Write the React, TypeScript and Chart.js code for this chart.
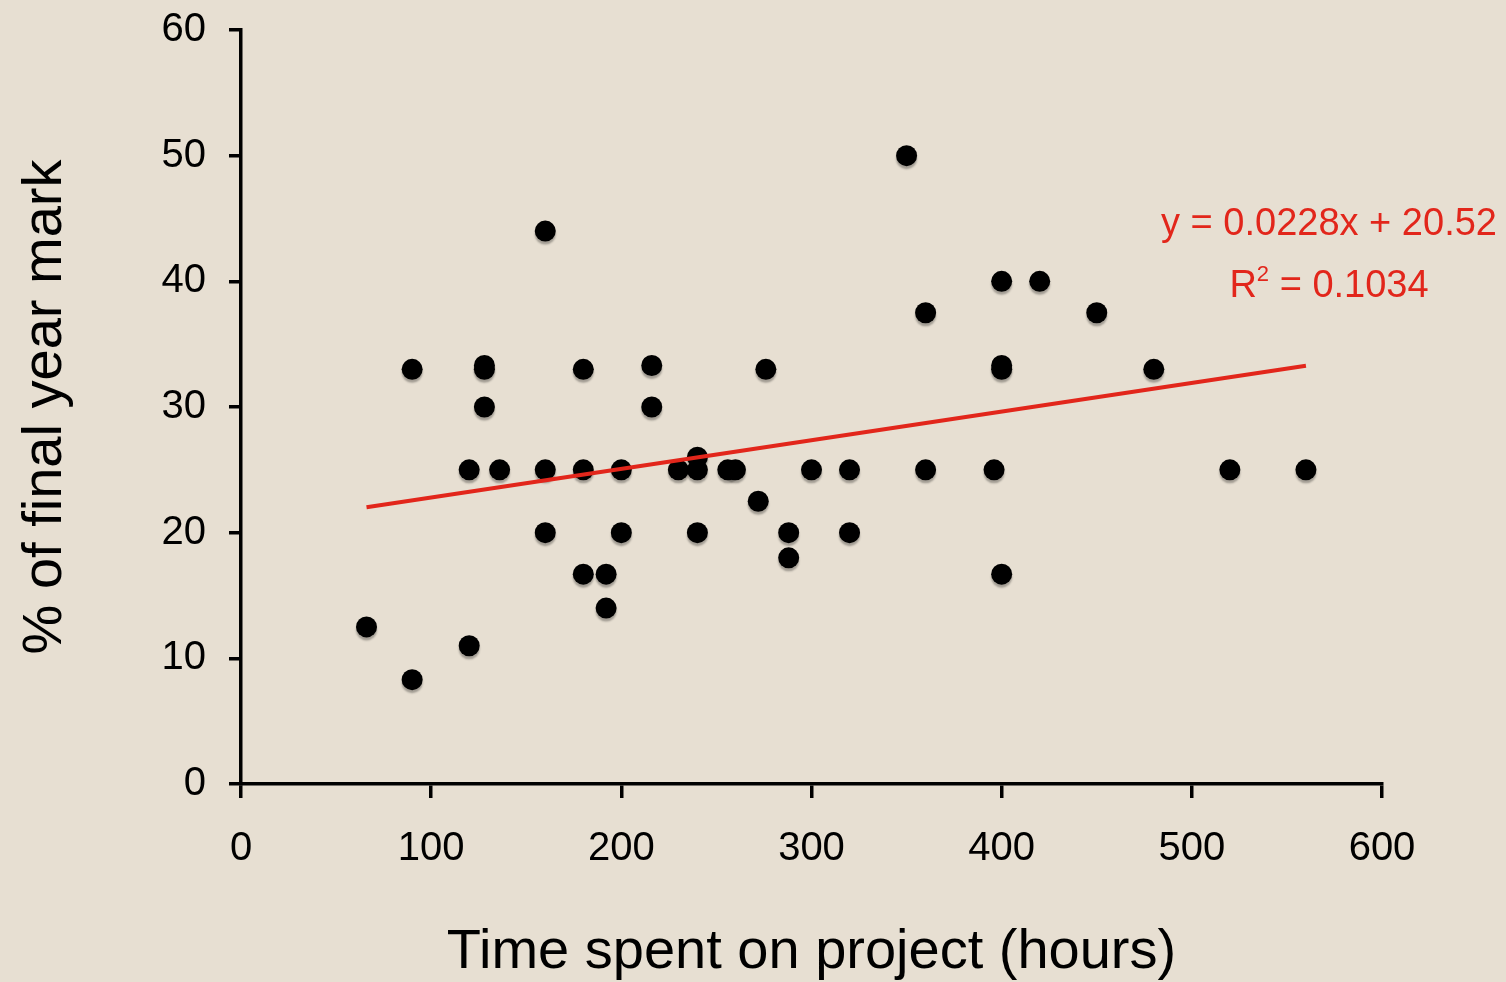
import React, { useEffect, useRef } from "react";
import { Chart, registerables } from "chart.js";

Chart.register(...registerables);

const hours: number[] = [66, 90, 90, 120, 120, 128, 128, 128, 136, 160, 160, 160, 180, 180, 180, 192, 192, 200, 200, 216, 216, 230, 240, 240, 240, 256, 260, 272, 276, 288, 288, 300, 320, 320, 350, 360, 360, 396, 400, 400, 400, 400, 420, 450, 480, 520, 560];
const marks: number[] = [12.5, 8.3, 33, 11, 25, 33.3, 33, 30, 25, 44, 25, 20, 33, 25, 16.7, 16.7, 14, 25, 20, 33.3, 30, 25, 26, 25, 20, 25, 25, 22.5, 33, 20, 18, 25, 25, 20, 50, 37.5, 25, 25, 40, 33.3, 33, 16.7, 40, 37.5, 33, 25, 25];

const slope = 0.0228;
const intercept = 20.52;
const equationLabel = "y = 0.0228x + 20.52";
const r2Value = "0.1034";

const xTicks: number[] = [0, 100, 200, 300, 400, 500, 600];
const yTicks: number[] = [0, 10, 20, 30, 40, 50, 60];

const xTitle = "Time spent on project (hours)";
const yTitle = "% of final year mark";

const FONT = "'Liberation Sans', Arial, Helvetica, sans-serif";
const RED = "#e2261b";
const BG = "#e7dfd2";

export default function App() {
  const ref = useRef<HTMLCanvasElement | null>(null);

  useEffect(() => {
    if (!ref.current) return;
    const xMin = Math.min(...hours);
    const xMax = Math.max(...hours);
    const trend = [
      { x: xMin, y: slope * xMin + intercept },
      { x: xMax, y: slope * xMax + intercept },
    ];
    const points = hours.map((h, i) => ({ x: h, y: marks[i] }));

    const bgPlugin = {
      id: "bg",
      beforeDraw(chart: any) {
        const ctx = chart.ctx;
        ctx.save();
        ctx.fillStyle = BG;
        ctx.fillRect(0, 0, chart.width, chart.height);
        ctx.restore();
      },
    };

    const shadowPlugin = {
      id: "shadow",
      beforeDatasetDraw(chart: any, args: any) {
        if (args.index === 1) {
          const ctx = chart.ctx;
          ctx.save();
          ctx.shadowColor = "rgba(0,0,0,0.3)";
          ctx.shadowOffsetX = 0;
          ctx.shadowOffsetY = 3;
          ctx.shadowBlur = 2;
        }
      },
      afterDatasetDraw(chart: any, args: any) {
        if (args.index === 1) {
          chart.ctx.restore();
        }
      },
    };

    const annotPlugin = {
      id: "annot",
      afterDatasetsDraw(chart: any) {
        const ctx = chart.ctx;
        const cx = 1329;
        ctx.save();
        ctx.fillStyle = RED;
        ctx.textBaseline = "alphabetic";
        ctx.font = `38px ${FONT}`;
        ctx.textAlign = "center";
        ctx.fillText(equationLabel, cx, 235);
        const mainFont = `38px ${FONT}`;
        const supFont = `22px ${FONT}`;
        ctx.font = mainFont;
        const wR = ctx.measureText("R").width;
        const rest = " = " + r2Value;
        const wRest = ctx.measureText(rest).width;
        ctx.font = supFont;
        const wSup = ctx.measureText("2").width;
        const total = wR + wSup + wRest;
        let x = cx - total / 2;
        ctx.textAlign = "left";
        ctx.font = mainFont;
        ctx.fillText("R", x, 297);
        x += wR;
        ctx.font = supFont;
        ctx.fillText("2", x, 281);
        x += wSup;
        ctx.font = mainFont;
        ctx.fillText(rest, x, 297);
        ctx.restore();
      },
    };

    const chart = new Chart(ref.current, {
      type: "scatter",
      data: {
        datasets: [
          {
            type: "line",
            data: trend,
            borderColor: RED,
            borderWidth: 4,
            pointRadius: 0,
            fill: false,
          } as any,
          {
            data: points,
            backgroundColor: "#000",
            borderColor: "#000",
            borderWidth: 0,
            pointRadius: 10.5,
          },
        ],
      },
      options: {
        animation: false,
        responsive: false,
        devicePixelRatio: 1,
        layout: { padding: { top: 30, right: 124, left: 0, bottom: 0 } },
        plugins: { legend: { display: false }, tooltip: { enabled: false } },
        scales: {
          x: {
            type: "linear",
            min: 0,
            max: 600,
            afterBuildTicks: (s: any) => {
              s.ticks = xTicks.map((v) => ({ value: v }));
            },
            afterFit: (s: any) => {
              s.height = 198;
              s.paddingLeft = 0;
              s.paddingRight = 0;
            },
            border: { display: true, color: "#000", width: 3.5 },
            grid: { drawOnChartArea: false, drawTicks: true, tickLength: 14, color: "#000", lineWidth: 3.5 },
            ticks: { color: "#000", font: { family: FONT, size: 40 }, padding: 27, maxRotation: 0 },
            title: {
              display: true,
              text: xTitle,
              color: "#000",
              font: { family: FONT, size: 56, lineHeight: 1 },
              padding: { top: 0, bottom: 1 },
            },
          },
          y: {
            type: "linear",
            min: 0,
            max: 60,
            afterBuildTicks: (s: any) => {
              s.ticks = yTicks.map((v) => ({ value: v }));
            },
            afterFit: (s: any) => {
              s.width = 241;
              s.paddingTop = 0;
              s.paddingBottom = 0;
            },
            border: { display: true, color: "#000", width: 3.5 },
            grid: { drawOnChartArea: false, drawTicks: true, tickLength: 12, color: "#000", lineWidth: 3.5 },
            ticks: { color: "#000", font: { family: FONT, size: 40 }, padding: 23 },
            title: {
              display: true,
              text: yTitle,
              color: "#000",
              font: { family: FONT, size: 56, lineHeight: 1.2 },
              padding: { top: 12, bottom: 0 },
            },
          },
        },
      },
      plugins: [bgPlugin, shadowPlugin, annotPlugin],
    } as any);
    return () => chart.destroy();
  }, []);

  return (
    <div style={{ position: "absolute", left: 0, top: 0, width: 1506, height: 982, background: BG }}>
      <canvas ref={ref} width={1506} height={982} style={{ display: "block" }} />
    </div>
  );
}
